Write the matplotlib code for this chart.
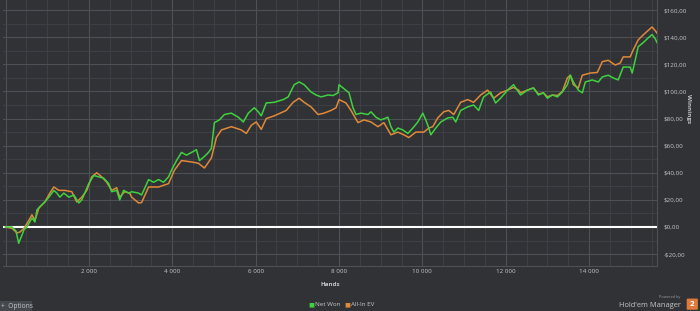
# -*- coding: utf-8 -*-

# Winnings graph, Net Won vs All-In EV, in the Hold'em Manager dark style.
import matplotlib
matplotlib.use("Agg")
import matplotlib.pyplot as plt # For the chart.
from matplotlib.ticker import FuncFormatter, MultipleLocator
from matplotlib.patches import FancyBboxPatch

# Net Won: hands played and dollars won at each reading point.
nw_hands = [0, 155, 251, 316, 395, 443, 514, 634, 706, 753, 825, 945, 1041, 1160, 1232, 1304,
            1399, 1519, 1639, 1710, 1758, 1830, 1902, 1997, 2117, 2237, 2356, 2476, 2548, 2667,
            2739, 2835, 2954, 3026, 3193, 3265, 3433, 3552, 3672, 3791, 3911, 3983, 4102, 4222,
            4342, 4461, 4581, 4653, 4772, 4868, 4940, 5011, 5131, 5251, 5418, 5585, 5705, 5825,
            5968, 6064, 6136, 6255, 6447, 6662, 6782, 6925, 7044, 7164, 7331, 7451, 7571, 7738,
            7858, 7977, 8001, 8121, 8241, 8336, 8408, 8528, 8695, 8767, 8887, 9006, 9174, 9246,
            9317, 9413, 9533, 9652, 9772, 9892, 10011, 10083, 10155, 10203, 10322, 10442, 10610,
            10729, 10801, 10920, 11088, 11231, 11351, 11470, 11638, 11757, 11877, 12044, 12188,
            12307, 12355, 12522, 12666, 12785, 12905, 13000, 13120, 13240, 13359, 13479, 13551,
            13623, 13742, 13838, 13910, 14077, 14221, 14317, 14460, 14580, 14699, 14819, 14986,
            15034, 15106, 15178, 15297, 15417, 15512, 15584, 15632]
net_won = [0, 0, -3, -12, -6, -2, 0, 6.6, 3.7, 12.5, 15, 18.5, 22, 27, 25, 22,
           25, 22, 23.6, 20, 17.7, 20, 25, 32, 38, 37, 36, 32, 26, 27,
           20, 27, 25, 26, 25, 23.6, 35, 33, 35, 33, 37, 42, 49, 55,
           53, 55, 57, 49, 52, 55, 58, 77, 79, 83, 84, 81, 77.5, 84,
           88, 85, 82, 91.5, 92, 94, 96, 105, 107, 105, 99.6, 97.4, 96, 97.4,
           97, 99, 105, 102, 99, 88, 83, 84, 83, 85, 81, 79, 81, 74,
           70, 73, 71.6, 69, 73, 77.5, 84, 79, 73, 68, 73, 77.5, 80.5,
           81, 77.5, 86, 88.6, 90, 86, 96, 99.6, 91.5, 95, 101, 105,
           99.6, 97.4, 101, 102.6, 97.4, 99, 95, 97.4, 96, 99.6, 105, 112,
           107, 101, 99, 107, 108.5, 107, 110.7, 112, 110, 108.5, 118, 118,
           113.6, 123, 133, 136, 139.5, 142, 139, 136]

# All-In EV: hands played and dollars at each reading point.
ev_hands = [0, 155, 275, 347, 443, 562, 634, 706, 801, 945, 1064, 1160, 1280, 1423, 1591,
            1710, 1830, 1949, 2069, 2189, 2308, 2428, 2548, 2667, 2739, 2858, 2978, 3026, 3193,
            3265, 3433, 3672, 3911, 4054, 4222, 4461, 4629, 4772, 4940, 5059, 5179, 5418, 5657,
            5777, 5896, 6016, 6136, 6255, 6447, 6734, 6901, 7044, 7164, 7331, 7499, 7642, 7810,
            7930, 8001, 8169, 8288, 8456, 8599, 8767, 8934, 9078, 9246, 9413, 9556, 9676, 9843,
            10035, 10155, 10250, 10370, 10513, 10633, 10753, 10920, 11088, 11231, 11399, 11566,
            11710, 11877, 12044, 12188, 12307, 12355, 12522, 12666, 12785, 12905, 13000, 13120,
            13240, 13359, 13479, 13551, 13623, 13742, 13838, 14030, 14197, 14317, 14460, 14627,
            14747, 14819, 14986, 15058, 15178, 15297, 15417, 15512, 15584, 15632]
all_in_ev = [0, -1, -4.4, -3.7, -1, 5, 9, 5, 14, 18.5, 25, 29.5, 27, 27, 26,
             18.5, 22, 27, 37, 40, 37, 33, 27, 29, 22, 26, 25, 22, 17.7,
             18, 29.5, 29.5, 32, 42, 49, 48, 47, 43.5, 51, 66, 71.6, 74, 71.6,
             69, 75, 77.5, 72, 80, 82, 86, 92, 95, 92, 88.6, 83, 84, 86,
             88, 94, 91.5, 86, 77, 79, 77.5, 74, 77, 68, 70, 68, 66, 70,
             70, 73, 74, 80.5, 85, 86, 83, 92, 94, 92, 97.4, 101,
             95, 99, 101, 103, 101, 99, 101, 102.6, 98, 99, 96, 97.4,
             97, 100, 110, 112, 105, 102.6, 112, 113.6, 114, 122, 123, 119.5,
             121, 125.5, 125.5, 130.6, 138, 141.7, 145, 147.6, 145, 143]

bg = "#303236" # Dark panel colour.
txt = "#c4c6c8" # Light grey text.
green = "#3fd13f"
orange = "#e0893a"

fig = plt.figure(figsize=(7, 3.11), dpi=100)
fig.patch.set_facecolor(bg)
ax = fig.add_axes([0.0043, 0.1447, 0.9343, 0.8553])
ax.set_facecolor(bg)

# Grid, major and minor.
ax.xaxis.set_major_locator(MultipleLocator(2000))
ax.xaxis.set_minor_locator(MultipleLocator(500))
ax.yaxis.set_major_locator(MultipleLocator(20))
ax.yaxis.set_minor_locator(MultipleLocator(10))
ax.grid(which="major", color="#4d5054", linewidth=0.8)
ax.grid(which="minor", color="#3f4246", linewidth=0.6)
ax.set_axisbelow(True)

# Zero line and the two series.
ax.axhline(0, color="white", linewidth=1.5, zorder=2)
ax.plot(ev_hands, all_in_ev, color=orange, linewidth=1.1, zorder=3)
ax.plot(nw_hands, net_won, color=green, linewidth=1.1, zorder=4)

ax.set_xlim(-60, 15630)
ax.set_ylim(-28.8, 167.5)

# Ticks: dollars on the right, spaced thousands below.
def money(v, p):
    s = ("$%.2f" % abs(v)).replace(".", ",")
    return "-" + s if v < 0 else s

ax.yaxis.tick_right()
ax.yaxis.set_major_formatter(FuncFormatter(money))
ax.xaxis.set_major_formatter(FuncFormatter(lambda v, p: "" if v <= 0 else "{:,}".format(int(v)).replace(",", " ")))
ax.tick_params(which="both", length=0, colors=txt, labelsize=4.5)
ax.tick_params(axis="y", pad=5)
ax.tick_params(axis="x", pad=2)
for lbl in ax.get_xticklabels() + ax.get_yticklabels():
    lbl.set_fontfamily("Open Sans")
for s in ["top", "left"]:
    ax.spines[s].set_visible(False)
for s in ["right", "bottom"]:
    ax.spines[s].set_color("#4d5054")
    ax.spines[s].set_linewidth(0.8)

# Axis titles.
fig.text(0.984, 0.65, "Winnings", rotation=-90, color=txt, fontsize=4.5, fontweight="bold",
         family="Open Sans", ha="center", va="center")
fig.text(0.472, 0.085, "Hands", color=txt, fontsize=4.5, fontweight="bold",
         family="Open Sans", ha="center", va="center")

# Legend at the bottom.
fig.text(0.4445, 0.02, "\u25a0", color=green, fontsize=4.5, ha="center", va="center")
fig.text(0.450, 0.02, "Net Won", color=txt, fontsize=4.5, family="Open Sans", va="center")
fig.text(0.4955, 0.02, "\u25a0", color=orange, fontsize=4.5, ha="center", va="center")
fig.text(0.501, 0.02, "All-In EV", color=txt, fontsize=4.5, family="Open Sans", va="center")

# Options button, bottom left.
fig.patches.append(plt.Rectangle((0, 0), 0.046, 0.032, transform=fig.transFigure,
                                 facecolor="#45484c", edgecolor="none"))
fig.text(0.002, 0.016, "+  Options", color=txt, fontsize=4.8, family="Open Sans", va="center")

# Powered by Hold'em Manager badge.
fig.text(0.972, 0.045, "Powered by", color="#9a9c9e", fontsize=2.8, family="Open Sans",
         ha="right", va="center")
fig.text(0.973, 0.018, "Hold'em Manager", color=txt, fontsize=5.4, family="Open Sans",
         ha="right", va="center")
fig.patches.append(FancyBboxPatch((0.983, 0.006), 0.012, 0.032, transform=fig.transFigure,
                                  boxstyle="round,pad=0.002", facecolor="#e07a3a", edgecolor="none"))
fig.text(0.989, 0.022, "2", color="white", fontsize=5, fontweight="bold", ha="center", va="center")

fig.savefig("out.png", dpi=100, facecolor=bg)
